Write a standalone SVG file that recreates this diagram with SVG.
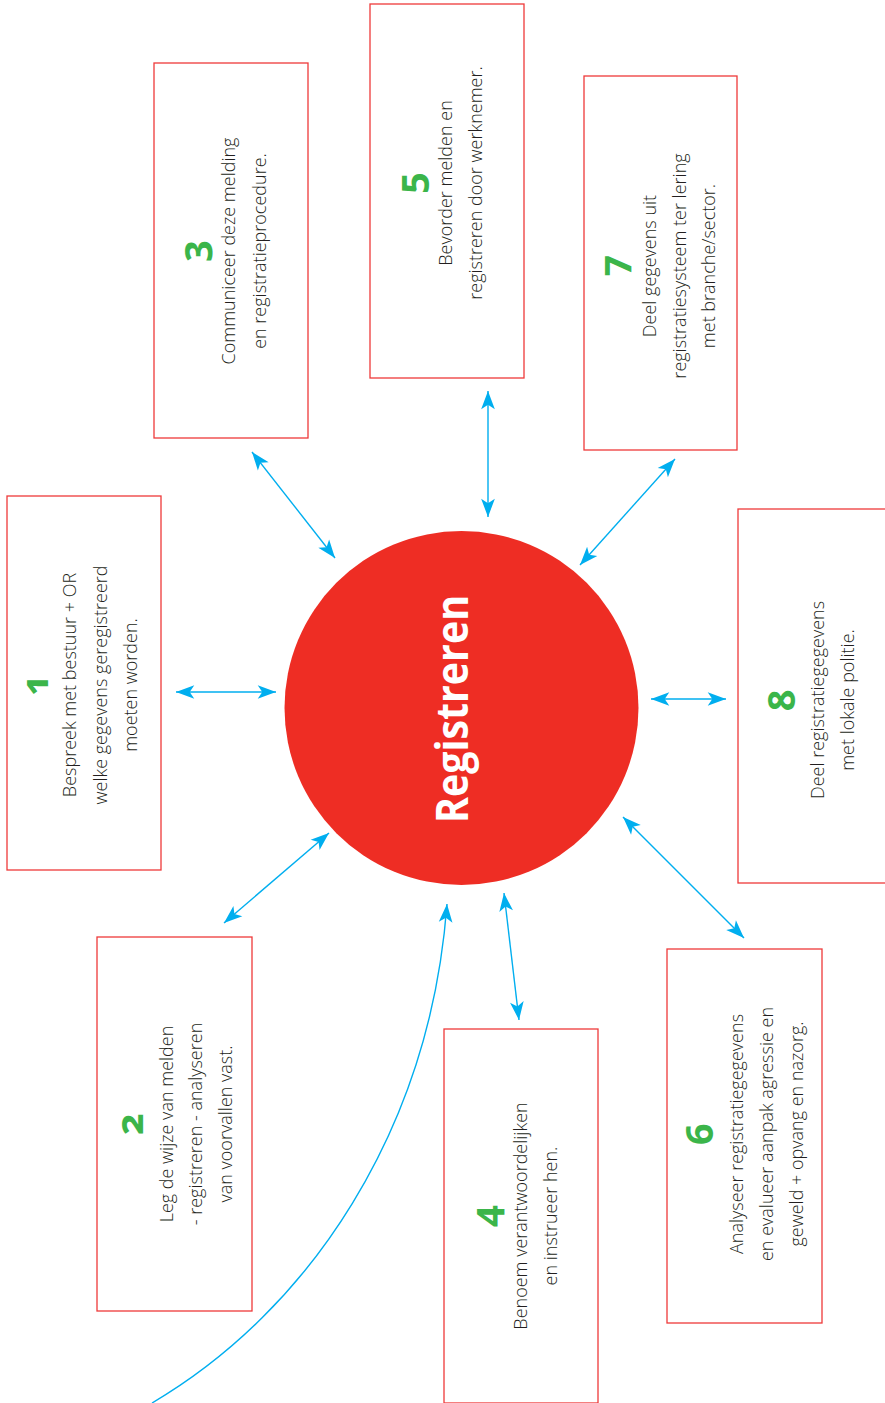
<svg xmlns="http://www.w3.org/2000/svg" width="885" height="1403" viewBox="0 0 885 1403">
<style>
.box{fill:#fff;stroke:#ee3a3a;stroke-width:1.3}
.num{font-family:"Noto Sans","Open Sans",sans-serif;font-weight:700;font-size:38px;fill:#3bb54a;text-anchor:middle;font-variant-numeric:oldstyle-nums;font-feature-settings:"onum" 1}
.t{font-family:"Open Sans","Noto Sans",sans-serif;font-weight:300;font-size:18px;fill:#231f20;text-anchor:middle}
.con{fill:none;stroke:#00aeef;stroke-width:1.4}
</style>
<defs>
<marker id="ah" markerUnits="userSpaceOnUse" markerWidth="20" markerHeight="16" viewBox="0 -7 17 14" refX="16" refY="0" orient="auto-start-reverse">
<path d="M0,-6 L16,0 L0,6 L4,0 Z" fill="#00aeef"/>
</marker>
</defs>
<rect width="885" height="1403" fill="#fff"/>
<g id="center">
<circle cx="461.5" cy="708" r="177" fill="#ee2d24"/>
<text transform="translate(468,709) rotate(-90)" x="0" y="0" font-family="'Open Sans','Noto Sans',sans-serif" font-weight="700" font-size="44" fill="#fff" text-anchor="middle" textLength="228" lengthAdjust="spacingAndGlyphs">Registreren</text>
</g>
<g id="connectors">
<line class="con" x1="176" y1="692" x2="276" y2="692" marker-start="url(#ah)" marker-end="url(#ah)"/>
<line class="con" x1="252" y1="452" x2="335" y2="558" marker-start="url(#ah)" marker-end="url(#ah)"/>
<line class="con" x1="488" y1="391" x2="488" y2="517" marker-start="url(#ah)" marker-end="url(#ah)"/>
<line class="con" x1="675" y1="459" x2="580" y2="565" marker-start="url(#ah)" marker-end="url(#ah)"/>
<line class="con" x1="651" y1="699" x2="726" y2="699" marker-start="url(#ah)" marker-end="url(#ah)"/>
<line class="con" x1="623" y1="817" x2="744" y2="938" marker-start="url(#ah)" marker-end="url(#ah)"/>
<line class="con" x1="504" y1="893" x2="519" y2="1020" marker-start="url(#ah)" marker-end="url(#ah)"/>
<line class="con" x1="329" y1="833" x2="224" y2="923" marker-start="url(#ah)" marker-end="url(#ah)"/>
<path class="con" d="M152,1403 C310,1310 430,1130 447,904" marker-end="url(#ah)"/>
</g>
<g id="node1">
<rect class="box" x="7" y="496" width="154" height="374"/>
<g transform="translate(0,685) rotate(-90)">
<text class="num" x="0" y="48">1</text>
<text class="t" x="0" y="76">Bespreek met bestuur + OR</text>
<text class="t" x="0" y="107">welke gegevens geregistreerd</text>
<text class="t" x="0" y="137">moeten worden.</text>
</g>
</g>
<g id="node2">
<rect class="box" x="97" y="937" width="155" height="374"/>
<g transform="translate(0,1124) rotate(-90)">
<text class="num" x="0" y="143">2</text>
<text class="t" x="0" y="173">Leg de wijze van melden</text>
<text class="t" x="0" y="202">- registreren - analyseren</text>
<text class="t" x="0" y="232">van voorvallen vast.</text>
</g>
</g>
<g id="node3">
<rect class="box" x="154" y="63" width="154" height="375"/>
<g transform="translate(0,251) rotate(-90)">
<text class="num" x="0" y="206">3</text>
<text class="t" x="0" y="235">Communiceer deze melding</text>
<text class="t" x="0" y="266">en registratieprocedure.</text>
</g>
</g>
<g id="node5">
<rect class="box" x="370" y="4" width="154" height="374"/>
<g transform="translate(0,183) rotate(-90)">
<text class="num" x="0" y="423">5</text>
<text class="t" x="0" y="452">Bevorder melden en</text>
<text class="t" x="0" y="482">registreren door werknemer.</text>
</g>
</g>
<g id="node7">
<rect class="box" x="584" y="76" width="153" height="374"/>
<g transform="translate(0,266) rotate(-90)">
<text class="num" x="0" y="626">7</text>
<text class="t" x="0" y="656">Deel gegevens uit</text>
<text class="t" x="0" y="686">registratiesysteem ter lering</text>
<text class="t" x="0" y="715">met branche/sector.</text>
</g>
</g>
<g id="node8">
<rect class="box" x="738" y="509" width="154" height="374"/>
<g transform="translate(0,700) rotate(-90)">
<text class="num" x="0" y="795">8</text>
<text class="t" x="0" y="824">Deel registratiegegevens</text>
<text class="t" x="0" y="854">met lokale politie.</text>
</g>
</g>
<g id="node6">
<rect class="box" x="667" y="949" width="155" height="374"/>
<g transform="translate(0,1134) rotate(-90)">
<text class="num" x="0" y="713">6</text>
<text class="t" x="0" y="743">Analyseer registratiegegevens</text>
<text class="t" x="0" y="773">en evalueer aanpak agressie en</text>
<text class="t" x="0" y="803">geweld + opvang en nazorg.</text>
</g>
</g>
<g id="node4">
<rect class="box" x="444" y="1029" width="154" height="374"/>
<g transform="translate(0,1216) rotate(-90)">
<text class="num" x="0" y="498">4</text>
<text class="t" x="0" y="527">Benoem verantwoordelijken</text>
<text class="t" x="0" y="557">en instrueer hen.</text>
</g>
</g>
</svg>
